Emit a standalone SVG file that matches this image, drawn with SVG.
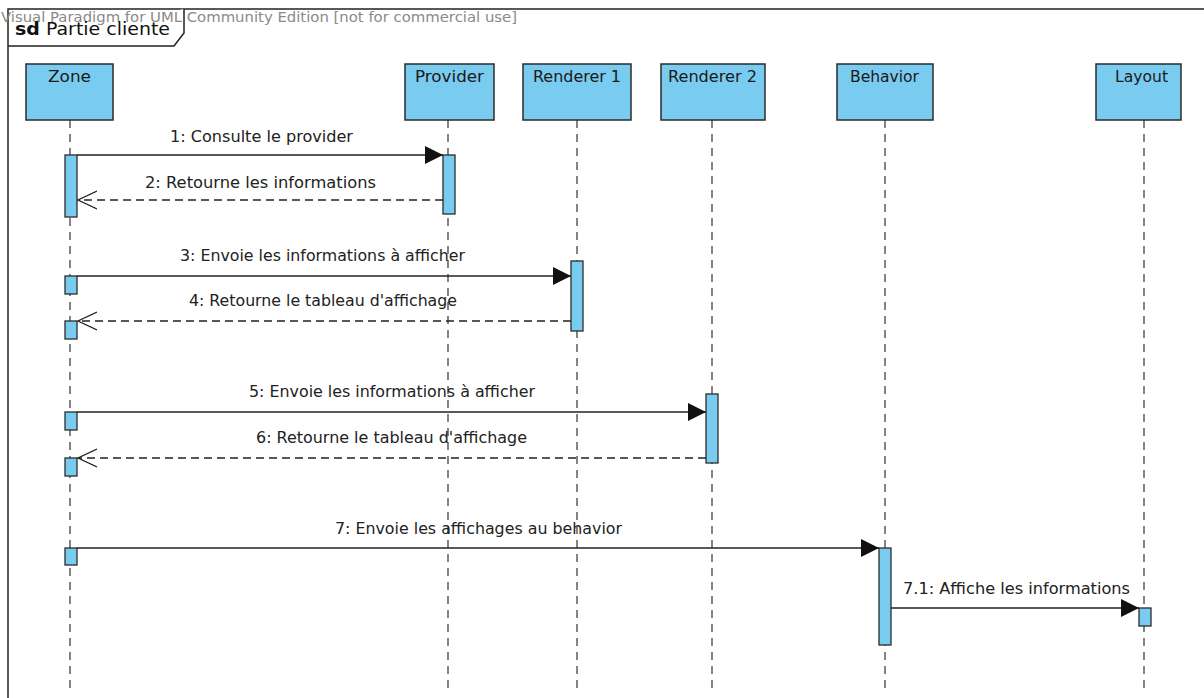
<svg xmlns="http://www.w3.org/2000/svg" width="1204" height="698" viewBox="0 0 1204 698">
<defs>
<style>
.head{fill:#79CBF0;stroke:#2b2b2b;stroke-width:1.5}
.act{fill:#79CBF0;stroke:#2b2b2b;stroke-width:1.3}
.life{stroke:#333;stroke-width:1.2;stroke-dasharray:8,6;fill:none}
.msg{stroke:#222;stroke-width:1.3;fill:none}
.ret{stroke:#222;stroke-width:1.3;fill:none;stroke-dasharray:8,5}
.t{font-family:"DejaVu Sans",sans-serif;font-size:15px;fill:#222}
.hd{font-family:"DejaVu Sans",sans-serif;font-size:15px;fill:#1a1a1a}
</style>
<marker id="sync" markerWidth="20" markerHeight="18" refX="18" refY="9" orient="auto" markerUnits="userSpaceOnUse">
<path d="M0,0 L18,9 L0,18 Z" fill="#111"/>
</marker>
<marker id="open" markerWidth="22" markerHeight="20" refX="19" refY="10" orient="auto" markerUnits="userSpaceOnUse">
<path d="M0,1 L19,10 L0,19" fill="none" stroke="#222" stroke-width="1.3"/>
</marker>
</defs>
<rect width="1204" height="698" fill="#fff"/>
<g id="frame">
<rect x="8" y="9" width="1200" height="700" fill="none" stroke="#222" stroke-width="1.5"/>
<path d="M8,46 H174 L184,33 V9" fill="#fff" stroke="#222" stroke-width="1.5"/>
<text x="1" y="22" font-family="DejaVu Sans,sans-serif" font-size="14" fill="#8a8a8a" textLength="516" lengthAdjust="spacingAndGlyphs">Visual Paradigm for UML Community Edition [not for commercial use]</text>
<text x="15" y="35" font-family="DejaVu Sans,sans-serif" font-size="17" fill="#111" textLength="155" lengthAdjust="spacingAndGlyphs"><tspan font-weight="bold">sd</tspan> Partie cliente</text>
</g>
<g id="lifelines">
<line class="life" x1="70" y1="120" x2="70" y2="690"/>
<line class="life" x1="448" y1="120" x2="448" y2="690"/>
<line class="life" x1="577" y1="120" x2="577" y2="690"/>
<line class="life" x1="712" y1="120" x2="712" y2="690"/>
<line class="life" x1="885" y1="120" x2="885" y2="690"/>
<line class="life" x1="1144" y1="120" x2="1144" y2="690"/>
</g>
<g id="zone">
<rect class="head" x="26" y="64" width="87" height="56"/>
<text class="hd" x="48" y="82" textLength="43" lengthAdjust="spacingAndGlyphs">Zone</text>
<rect class="act" x="65" y="155" width="12" height="62"/>
<rect class="act" x="65" y="276" width="12" height="18"/>
<rect class="act" x="65" y="321" width="12" height="18"/>
<rect class="act" x="65" y="412" width="12" height="18"/>
<rect class="act" x="65" y="458" width="12" height="18"/>
<rect class="act" x="65" y="548" width="12" height="17"/>
</g>
<g id="provider">
<rect class="head" x="405" y="64" width="89" height="56"/>
<text class="hd" x="415" y="82" textLength="69" lengthAdjust="spacingAndGlyphs">Provider</text>
<rect class="act" x="443" y="155" width="12" height="59"/>
</g>
<g id="renderer1">
<rect class="head" x="523" y="64" width="108" height="56"/>
<text class="hd" x="533" y="82" textLength="88" lengthAdjust="spacingAndGlyphs">Renderer 1</text>
<rect class="act" x="571" y="261" width="12" height="70"/>
</g>
<g id="renderer2">
<rect class="head" x="661" y="64" width="104" height="56"/>
<text class="hd" x="668" y="82" textLength="89" lengthAdjust="spacingAndGlyphs">Renderer 2</text>
<rect class="act" x="706" y="394" width="12" height="69"/>
</g>
<g id="behavior">
<rect class="head" x="837" y="64" width="96" height="56"/>
<text class="hd" x="850" y="82" textLength="69" lengthAdjust="spacingAndGlyphs">Behavior</text>
<rect class="act" x="879" y="548" width="12" height="97"/>
</g>
<g id="layout">
<rect class="head" x="1096" y="64" width="85" height="56"/>
<text class="hd" x="1115" y="82" textLength="53" lengthAdjust="spacingAndGlyphs">Layout</text>
<rect class="act" x="1139" y="608" width="12" height="18"/>
</g>
<g id="connectors">
<line class="msg" x1="77" y1="155" x2="443" y2="155" marker-end="url(#sync)"/>
<text class="t" x="170" y="142" textLength="183" lengthAdjust="spacingAndGlyphs">1: Consulte le provider</text>
<line class="ret" x1="443" y1="200" x2="78" y2="200" marker-end="url(#open)"/>
<text class="t" x="145" y="188" textLength="231" lengthAdjust="spacingAndGlyphs">2: Retourne les informations</text>
<line class="msg" x1="77" y1="276" x2="571" y2="276" marker-end="url(#sync)"/>
<text class="t" x="180" y="261" textLength="285" lengthAdjust="spacingAndGlyphs">3: Envoie les informations à afficher</text>
<line class="ret" x1="571" y1="321" x2="78" y2="321" marker-end="url(#open)"/>
<text class="t" x="189" y="306" textLength="268" lengthAdjust="spacingAndGlyphs">4: Retourne le tableau d'affichage</text>
<line class="msg" x1="77" y1="412" x2="706" y2="412" marker-end="url(#sync)"/>
<text class="t" x="249" y="397" textLength="286" lengthAdjust="spacingAndGlyphs">5: Envoie les informations à afficher</text>
<line class="ret" x1="706" y1="458" x2="78" y2="458" marker-end="url(#open)"/>
<text class="t" x="256" y="443" textLength="271" lengthAdjust="spacingAndGlyphs">6: Retourne le tableau d'affichage</text>
<line class="msg" x1="77" y1="548" x2="879" y2="548" marker-end="url(#sync)"/>
<text class="t" x="335" y="534" textLength="287" lengthAdjust="spacingAndGlyphs">7: Envoie les affichages au behavior</text>
<line class="msg" x1="891" y1="608" x2="1139" y2="608" marker-end="url(#sync)"/>
<text class="t" x="903" y="594" textLength="227" lengthAdjust="spacingAndGlyphs">7.1: Affiche les informations</text>
</g>
</svg>
